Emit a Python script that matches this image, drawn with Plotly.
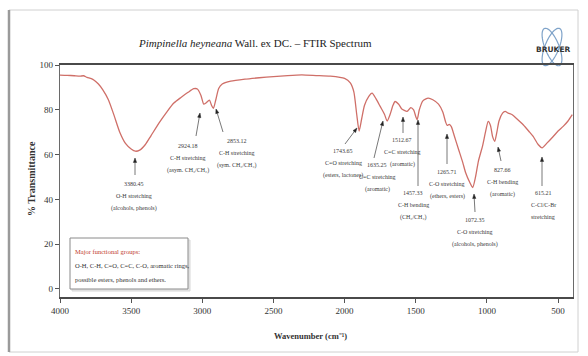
import numpy as np
import plotly.graph_objects as go

# ---------------- data ----------------
wavenumber = [4000, 3950, 3900, 3860, 3835, 3810, 3780, 3760, 3730, 3700, 3660, 3620, 3580, 3540,
              3500, 3470, 3440, 3400, 3360, 3300, 3250, 3200, 3150, 3100, 3060, 3035, 3010, 2990,
              2975, 2950, 2935, 2922, 2905, 2885, 2860, 2800, 2700, 2600, 2500, 2400, 2300, 2200,
              2100, 2000, 1960, 1935, 1915, 1898, 1880, 1860, 1830, 1807, 1780, 1750, 1720, 1701,
              1680, 1660, 1645, 1620, 1600, 1561, 1535, 1515, 1500, 1490, 1475, 1450, 1413, 1380,
              1340, 1310, 1290, 1279, 1265, 1250, 1230, 1200, 1170, 1150, 1120, 1100, 1080, 1060,
              1030, 1010, 991, 975, 960, 945, 930, 915, 890, 872, 850, 822, 790, 745, 700, 675, 640,
              612, 580, 534, 500, 464, 430, 400]
transmittance = [95.5, 95.4, 95.2, 95.0, 95.2, 94.5, 93.9, 93.2, 91.5, 89.0, 84.5, 77.5, 70.0, 65.0,
                 62.5, 61.5, 62.0, 64.5, 68.5, 74.5, 79.0, 83.0, 85.5, 87.8, 89.4, 89.3, 86.5, 82.5,
                 83.0, 84.3, 82.0, 80.6, 84.5, 89.5, 91.5, 92.8, 93.7, 94.3, 94.8, 95.3, 95.6, 95.3,
                 95.0, 94.0, 92.0, 88.0, 78.0, 70.5, 76.0, 82.0, 86.0, 87.4, 85.0, 81.5, 78.0, 75.0,
                 78.0, 82.0, 83.7, 82.5, 80.5, 79.3, 81.0, 80.0, 77.0, 75.6, 80.0, 84.0, 85.2, 84.5,
                 82.5, 79.0, 74.5, 73.0, 73.5, 72.5, 68.5, 62.5, 56.5, 52.0, 47.5, 45.3, 50.0, 57.0,
                 64.0, 70.0, 74.8, 73.0, 68.0, 65.9, 70.0, 75.0, 78.5, 79.3, 78.5, 77.8, 76.0, 73.3,
                 70.0, 68.1, 64.5, 63.0, 65.0, 68.1, 70.5, 72.6, 75.0, 77.8]

peak_values = ["3380.45", "2924.18", "2853.12", "1743.65", "1635.25", "1512.67", "1457.33",
               "1265.71", "1072.35", "827.66", "615.21"]
peak_modes = ["O-H stretching", "C-H stretching", "C-H stretching", "C=O stretching",
              "C=C stretching", "C=C stretching", "C-H bending", "C-O stretching",
              "C-O stretching", "C-H bending", "C-Cl/C-Br"]
peak_notes = ["(alcohols, phenols)", "(asym. CH₃/CH₂)", "(sym. CH₃/CH₂)", "(esters, lactones)",
              "(aromatic)", "(aromatic)", "(CH₃/CH₂)", "(ethers, esters)",
              "(alcohols, phenols)", "(aromatic)", "stretching"]

x_ticks = [4000, 3500, 3000, 2500, 2000, 1500, 1000, 500]
y_ticks = [0, 20, 40, 60, 80, 100]

box_title = "Major functional groups:"
box_lines = ["O-H, C-H, C=O, C=C, C-O, aromatic rings,",
             "possible esters, phenols and ethers."]

# ---------------- layout geometry (pixels) ----------------
W, H = 588, 356
PL, PR, PT, PB = 60, 573, 65, 297
X0, X1 = 4000, 395
Y0, Y1 = -3.6, 100


def wx(px):
    return X0 + (px - PL) / (PR - PL) * (X1 - X0)


def ty(py):
    return Y1 - (py - PT) / (PB - PT) * (Y1 - Y0)


def pxp(px):
    return (px - PL) / (PR - PL)


def pyp(py):
    return (PB - py) / (PB - PT)


label_pos = [(134, 184), (188, 146), (237, 141), (343, 151), (377, 165), (402, 140), (413, 193),
             (447, 172), (475, 220), (502, 170), (543, 193)]
arrow_pos = [((135, 175), (135, 158)), ((196, 136), (200, 113)), ((223, 132), (216, 109)),
             ((345, 144), (357, 128)), ((374, 158), (383, 121)), ((403, 133), (403, 117)),
             ((418, 186), (418, 120)), ((447, 164), (447, 134)), ((475, 212), (474, 194)),
             ((501, 161), (498, 147)), ((542, 186), (542, 157))]
LINE = 12

SERIF = "Liberation Serif"
TXT = "#3a3a3a"

fig = go.Figure()
fig.add_trace(go.Scatter(x=wavenumber, y=transmittance, mode="lines",
                         line=dict(color="#cf6f68", width=1.3, shape="spline", smoothing=0.6),
                         hoverinfo="skip", showlegend=False))

ann = []
# peak labels
for i, (cx, cy) in enumerate(label_pos):
    for j, t in enumerate([peak_values[i], peak_modes[i], peak_notes[i]]):
        ann.append(dict(x=wx(cx), y=ty(cy + j * LINE), xref="x", yref="y", text=t,
                        showarrow=False, font=dict(family=SERIF, size=6, color=TXT),
                        xanchor="center", yanchor="middle"))
# title
ann.append(dict(x=pxp(255), y=pyp(43), xref="paper", yref="paper",
                text="<i>Pimpinella heyneana</i> Wall. ex DC. – FTIR Spectrum",
                showarrow=False, font=dict(family=SERIF, size=11, color="#222"),
                xanchor="center", yanchor="middle"))
# axis titles
ann.append(dict(x=pxp(31), y=pyp(179), xref="paper", yref="paper", text="% Transmittance",
                textangle=-90, showarrow=False,
                font=dict(family=SERIF, size=10, color="#333", weight="bold"),
                xanchor="center", yanchor="middle"))
ann.append(dict(x=pxp(310), y=pyp(336), xref="paper", yref="paper",
                text="Wavenumber (cm⁻¹)", showarrow=False,
                font=dict(family=SERIF, size=8.5, color="#333", weight="bold"),
                xanchor="center", yanchor="middle"))
# functional group box text
ann.append(dict(x=pxp(73), y=pyp(251), xref="paper", yref="paper", text=box_title,
                showarrow=False, font=dict(family=SERIF, size=6.5, color="#c0392b"),
                xanchor="left", yanchor="middle"))
for k, t in enumerate(box_lines):
    ann.append(dict(x=pxp(73), y=pyp(265 + 14 * k), xref="paper", yref="paper", text=t,
                    showarrow=False, font=dict(family=SERIF, size=6.5, color="#333"),
                    xanchor="left", yanchor="middle"))
# BRUKER logo text
ann.append(dict(x=pxp(553), y=pyp(49), xref="paper", yref="paper", text="BRUKER",
                showarrow=False, font=dict(family="DejaVu Sans", size=7.5, color="#333",
                                           weight="bold"),
                xanchor="center", yanchor="middle"))

shapes = []
# outer panel
shapes.append(dict(type="rect", xref="paper", yref="paper", x0=pxp(9), x1=pxp(578),
                   y0=pyp(352), y1=pyp(10), line=dict(color="#d0d0d0", width=1), layer="below"))
shapes.append(dict(type="line", xref="paper", yref="paper", x0=pxp(9), x1=pxp(9),
                   y0=pyp(352), y1=pyp(10), line=dict(color="#9a9a9a", width=2.5)))
# functional group box (shadow + box)
shapes.append(dict(type="rect", xref="paper", yref="paper", x0=pxp(72), x1=pxp(190),
                   y0=pyp(291), y1=pyp(240), line=dict(color="#d8d8d8", width=1),
                   fillcolor="#e6e6e6"))
shapes.append(dict(type="rect", xref="paper", yref="paper", x0=pxp(70), x1=pxp(188),
                   y0=pyp(289), y1=pyp(238), line=dict(color="#8a8a8a", width=1),
                   fillcolor="white"))
# arrows (line + filled head)
for (tx, tyy), (hx, hy) in arrow_pos:
    d = np.array([hx - tx, hy - tyy], dtype=float)
    d /= np.hypot(*d)
    nrm = np.array([-d[1], d[0]])
    base = np.array([hx, hy]) - 4.5 * d
    shapes.append(dict(type="line", xref="paper", yref="paper", x0=pxp(tx), y0=pyp(tyy),
                       x1=pxp(base[0]), y1=pyp(base[1]), line=dict(color="#555", width=0.8)))
    p1 = base + 1.6 * nrm
    p2 = base - 1.6 * nrm
    path = (f"M {pxp(hx):.5f},{pyp(hy):.5f} L {pxp(p1[0]):.5f},{pyp(p1[1]):.5f} "
            f"L {pxp(p2[0]):.5f},{pyp(p2[1]):.5f} Z")
    shapes.append(dict(type="path", xref="paper", yref="paper", path=path,
                       line=dict(color="#222", width=0.5), fillcolor="#222"))
# BRUKER atom symbol: two tilted ellipses
cxl, cyl = 552, 47
t = np.linspace(0, 2 * np.pi, 60)
for ang in (np.deg2rad(22), np.deg2rad(-22)):
    ex = 7 * np.cos(t)
    ey = 20 * np.sin(t)
    rx = ex * np.cos(ang) - ey * np.sin(ang) + cxl
    ry = ex * np.sin(ang) + ey * np.cos(ang) + cyl
    path = "M " + " L ".join(f"{pxp(a):.5f},{pyp(b):.5f}" for a, b in zip(rx, ry)) + " Z"
    shapes.append(dict(type="path", xref="paper", yref="paper", path=path,
                       line=dict(color="#7fa3c9", width=1.2), layer="below"))

fig.update_layout(
    width=W, height=H,
    margin=dict(l=PL, r=W - PR, t=PT, b=H - PB, pad=0),
    paper_bgcolor="white", plot_bgcolor="white",
    showlegend=False,
    annotations=ann, shapes=shapes,
    xaxis=dict(range=[X0, X1], tickmode="array", tickvals=x_ticks,
               showgrid=False, zeroline=False, showline=True, linecolor="#4a4a4a", linewidth=1.6,
               mirror=True, ticks="outside", ticklen=4, tickcolor="#555", tickwidth=1,
               tickfont=dict(family=SERIF, size=9, color="#333")),
    yaxis=dict(range=[Y0, Y1], tickmode="array", tickvals=y_ticks, showgrid=False, zeroline=False,
               showline=True, linecolor="#6a6a6a", linewidth=1.2, mirror=True, ticks="outside",
               ticklen=4, tickcolor="#555", tickwidth=1,
               tickfont=dict(family=SERIF, size=9, color="#333")),
)

fig.write_html("out.html", config={"displayModeBar": False},
               post_script="document.body.style.margin='0';document.body.style.overflow='hidden';")
